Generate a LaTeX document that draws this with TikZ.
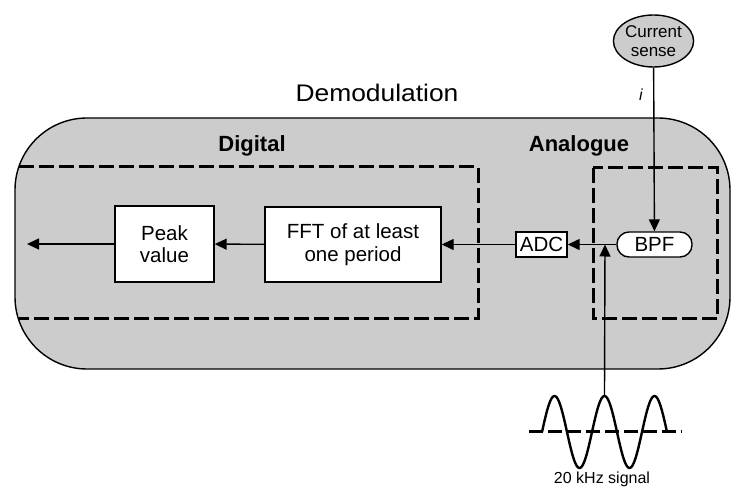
\documentclass[tikz,border=0pt]{standalone}
\usepackage{fontspec}
\setmainfont{Liberation Sans}
\usetikzlibrary{arrows.meta,shapes.geometric}
\tikzset{
  flow/.style={line width=1.4pt,-{Triangle[length=12pt,width=11pt]}},
  block/.style={draw,line width=1.4pt,fill=white,inner sep=0pt,align=center,
    font=\fontsize{20.5}{22.5}\selectfont},
  zone/.style={line width=3pt,dash pattern=on 15pt off 5pt},
  heading/.style={font=\bfseries\fontsize{22}{24}\selectfont,anchor=base},
  panel/.style={draw,line width=1.4pt,fill=gray!40}
}
\begin{document}
\begin{tikzpicture}[x=1pt,y=-1pt]
  \useasboundingbox (0,0) rectangle (732,489);

  % demodulation panel
  \draw[panel,rounded corners=72pt] (15,118) rectangle (730,369);
  \node[font=\fontsize{24}{26}\selectfont,anchor=base,xscale=1.1] (demod) at (377,102) {Demodulation};

  % digital and analogue zones
  \draw[zone] (19,167) -- (478,167) -- (478,319) -- (19,319);
  \draw[zone] (593,168) rectangle (717,319);
  \node[heading] (dig) at (252,152) {Digital};
  \node[heading] (ana) at (579,152) {Analogue};

  % processing blocks
  \node[block,minimum width=99pt,minimum height=76pt] (peak) at (164.5,244) {Peak\\value};
  \node[block,minimum width=176pt,minimum height=75pt] (fft) at (353,244.5) {FFT of at least\\one period};
  \node[block,minimum width=51pt,minimum height=25pt] (adc) at (541.5,244.5) {ADC};
  \node[block,rounded corners=12pt,minimum width=75pt,minimum height=25pt] (bpf) at (654.5,244.5) {BPF};

  % current sense input
  \node[ellipse,draw,line width=1.4pt,fill=gray!40,minimum width=77pt,minimum height=52pt,
    inner sep=0pt,align=center,font=\fontsize{17}{19}\selectfont] (cs) at (653.5,41) {Current\\sense};
  \node[font=\itshape\fontsize{16}{18}\selectfont] (ilab) at (641,95) {i};

  \coordinate (out) at (27,244);
  \coordinate (join) at (605,244.5);
  \coordinate (sig) at (604.5,395);

  % signal flow
  \draw[flow] (cs) -- (bpf);
  \draw[flow] (bpf) -- (adc);
  \draw[flow] (adc) -- (fft);
  \draw[flow] (fft) -- (peak);
  \draw[flow] (peak) -- (out);
  \draw[flow] (sig) -- (join);

  % 20 kHz reference signal
  \draw[line width=3pt,dash pattern=on 14pt off 5pt] (529,432) -- (682,432);
  \draw[line width=2.4pt,line join=round,samples=120,domain=0:125]
    plot ({542+\x},{432-36*sin(7.2*\x)});
  \node[font=\fontsize{16}{18}\selectfont] (siglab) at (602,479) {20 kHz signal};
\end{tikzpicture}
\end{document}
